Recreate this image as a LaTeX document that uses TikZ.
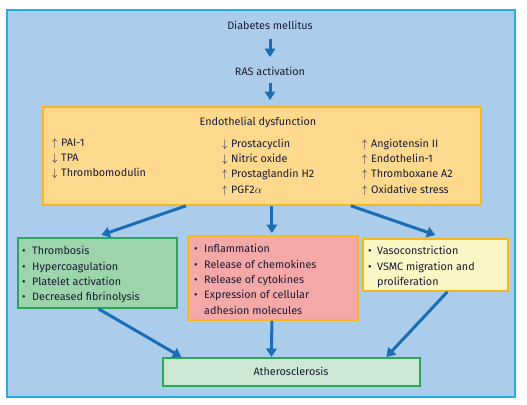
\documentclass[tikz,border=0pt]{standalone}
\usepackage{fontspec}
\setmainfont{Fira Sans}
\usetikzlibrary{arrows.meta}
\definecolor{bgblue}{HTML}{ABCDEB}
\definecolor{frameblue}{HTML}{1CB0E4}
\definecolor{arrowblue}{HTML}{1B6DB6}
\definecolor{orangeline}{HTML}{F9B71E}
\definecolor{endofill}{HTML}{FDD98E}
\definecolor{greenline}{HTML}{2BA65B}
\definecolor{greenfill}{HTML}{9CD4AC}
\definecolor{pinkfill}{HTML}{F5A8A8}
\definecolor{yellowfill}{HTML}{FBF6C5}
\definecolor{atherofill}{HTML}{CCE8D4}
\definecolor{txt}{HTML}{1A1A33}
\tikzset{
  every node/.style={text=txt, font=\fontsize{10.8}{15.3}\selectfont},
  lbl/.style={inner sep=0pt},
  boxa/.style={draw=#1, line width=1.8pt, anchor=north west, inner sep=0pt},
  col/.style={inner sep=0pt, anchor=north west, align=left},
  flow/.style={draw=arrowblue, line width=3pt, -{Triangle[width=10.5pt,length=8.5pt]}},
}
\newcommand{\up}{$\uparrow$\hspace{3.5pt}}
\newcommand{\dn}{$\downarrow$\hspace{3.5pt}}
\newcommand{\bl}{\textbullet}
\begin{document}
\begin{tikzpicture}[x=1pt,y=-1pt]
\useasboundingbox (0,0) rectangle (527,404);
\draw[fill=bgblue, draw=frameblue, line width=2.5pt] (7,10) rectangle (515,397);

\node[lbl] (dm) at (270,25) {Diabetes mellitus};
\node[lbl] (ras) at (270,71) {RAS activation};

\node[boxa=orangeline, fill=endofill, minimum width=438pt, minimum height=98pt] (endo) at (42,106) {};
\node[lbl] (endot) at (258,122) {Endothelial dysfunction};
\node[col] (c1) at (52,138.5) {\up PAI-1\\ \dn TPA\\ \dn Thrombomodulin};
\node[col] (c2) at (222,138.5) {\dn Prostacyclin\\ \dn Nitric oxide\\ \up Prostaglandin H2\\ \up PGF2$\alpha$};
\node[col] (c3) at (362,138.5) {\up Angiotensin II\\ \up Endothelin-1\\ \up Thromboxane A2\\ \up Oxidative stress};

\node[boxa=greenline, fill=greenfill, minimum width=159pt, minimum height=70pt] (green) at (17,237) {};
\node[col] (gl) at (22,244) {\begin{tabular}{@{}c@{\hspace{6.5pt}}l@{}}\bl & Thrombosis\\ \bl & Hypercoagulation\\ \bl & Platelet activation\\ \bl & Decreased fibrinolysis\end{tabular}};

\node[boxa=orangeline, fill=pinkfill, minimum width=170pt, minimum height=84pt] (pink) at (187,235) {};
\node[col] (pl) at (194,242) {\begin{tabular}{@{}c@{\hspace{6.5pt}}l@{}}\bl & Inflammation\\ \bl & Release of chemokines\\ \bl & Release of cytokines\\ \bl & Expression of cellular\\ & adhesion molecules\end{tabular}};

\node[boxa=orangeline, fill=yellowfill, minimum width=145pt, minimum height=52pt] (yellow) at (362,238) {};
\node[col] (yl) at (368,244) {\begin{tabular}{@{}c@{\hspace{5.5pt}}l@{}}\bl & Vasoconstriction\\ \bl & VSMC migration and\\ & proliferation\end{tabular}};

\node[boxa=greenline, fill=atherofill, minimum width=257pt, minimum height=28pt] (ath) at (162,357) {};
\node[lbl] (atht) at (291,371) {Atherosclerosis};

\draw[flow, shorten <=9.5pt, shorten >=9.5pt] (dm.south) -- (ras.north);
\draw[flow, shorten <=7.5pt, shorten >=6pt] (ras.south) -- (endo.north -| ras.south);
\draw[flow] ([xshift=-76pt]endo.south) -- ([xshift=4pt,yshift=2pt]green.north);
\draw[flow] ([xshift=10pt]endo.south) -- ([xshift=-1pt,yshift=2pt]pink.north);
\draw[flow] ([xshift=89pt]endo.south) -- ([xshift=0pt,yshift=3pt]yellow.north);
\draw[flow] ([xshift=1pt]green.south) -- ([xshift=-110pt]ath.north);
\draw[flow] ([xshift=-1pt]pink.south) -- ([xshift=-20pt]ath.north);
\draw[flow] ([xshift=12pt]yellow.south) -- ([xshift=95pt]ath.north);
\end{tikzpicture}
\end{document}
